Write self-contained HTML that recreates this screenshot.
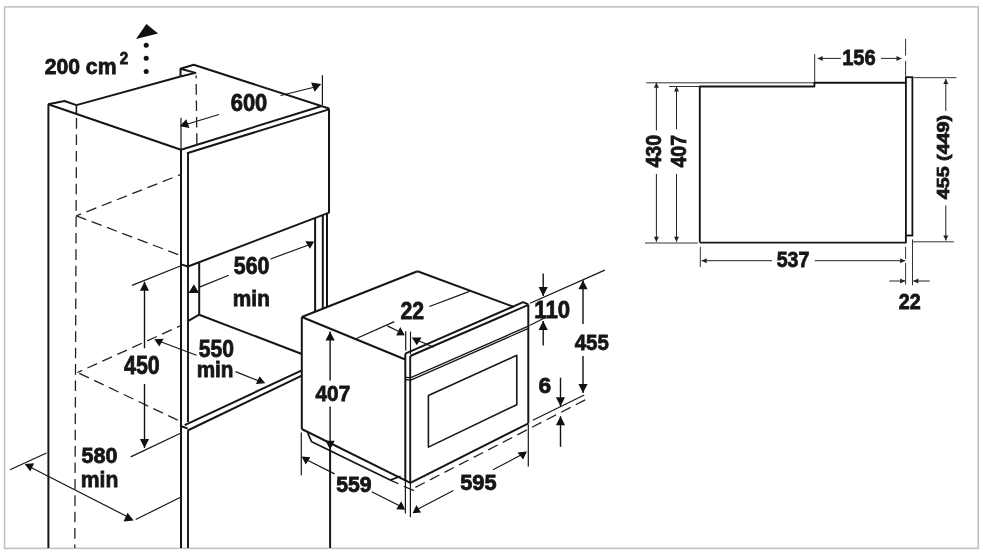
<!DOCTYPE html>
<html><head><meta charset="utf-8"><style>
html,body{margin:0;padding:0;background:#fff;width:983px;height:557px;overflow:hidden}
svg{display:block;will-change:transform}
text{font-family:"Liberation Sans",sans-serif;font-weight:bold;fill:#161616;stroke:#161616;stroke-width:0.8px}
</style></head><body>
<svg width="983" height="557" viewBox="0 0 983 557">
<rect x="4.6" y="6.9" width="973.6" height="541.5" fill="none" stroke="#c2c2c2" stroke-width="1.6"/>
<line x1="48.4" y1="104.3" x2="48.4" y2="548" stroke="#161616" stroke-width="2.0"/>
<polyline points="48.2,104.3 64.5,101 76.4,105.1" fill="none" stroke="#161616" stroke-width="2.0" stroke-linejoin="round"/>
<line x1="76.4" y1="105.1" x2="76.4" y2="114" stroke="#161616" stroke-width="1.6"/>
<line x1="48.2" y1="104.3" x2="181" y2="149.8" stroke="#161616" stroke-width="2.0"/>
<line x1="76.4" y1="105.1" x2="180.5" y2="76.5" stroke="#161616" stroke-width="2.0"/>
<polyline points="180.5,76.5 180.5,68.7 193.7,64.8 329,108.5" fill="none" stroke="#161616" stroke-width="2.0" stroke-linejoin="round"/>
<polyline points="180.5,68.7 195.5,72.9 180.5,76.5" fill="none" stroke="#161616" stroke-width="2.0" stroke-linejoin="round"/>
<line x1="181" y1="149.8" x2="321" y2="106.2" stroke="#161616" stroke-width="2.0"/>
<line x1="187" y1="153.2" x2="329" y2="109.4" stroke="#161616" stroke-width="2.0"/>
<line x1="181" y1="149.8" x2="181" y2="548" stroke="#161616" stroke-width="2.0"/>
<line x1="188" y1="153.2" x2="188" y2="421.9" stroke="#161616" stroke-width="1.9"/>
<line x1="188" y1="430.5" x2="188" y2="548" stroke="#161616" stroke-width="1.9"/>
<line x1="329" y1="108.5" x2="329" y2="213" stroke="#161616" stroke-width="2.0"/>
<polyline points="181,264.4 188,266.5 329.1,212.6" fill="none" stroke="#161616" stroke-width="2.0" stroke-linejoin="round"/>
<line x1="315.1" y1="217.9478" x2="315.1" y2="311.74649999999997" stroke="#161616" stroke-width="2.0"/>
<line x1="322.8" y1="215.00639999999999" x2="322.8" y2="308.705" stroke="#161616" stroke-width="2.0"/>
<line x1="327" y1="213.402" x2="327" y2="307.046" stroke="#161616" stroke-width="2.0"/>
<line x1="199.2" y1="262.5" x2="199.2" y2="314.7" stroke="#161616" stroke-width="2.0"/>
<line x1="188" y1="321.1" x2="199.2" y2="314.7" stroke="#161616" stroke-width="2.0"/>
<line x1="199.2" y1="314.7" x2="301.8" y2="354" stroke="#161616" stroke-width="2.0"/>
<line x1="184.7" y1="425.1" x2="301.8" y2="370.4" stroke="#161616" stroke-width="2.0"/>
<line x1="181.1" y1="426.2" x2="187.6" y2="428.4" stroke="#161616" stroke-width="2.0"/>
<line x1="187.6" y1="430.5" x2="301.8" y2="375.6" stroke="#161616" stroke-width="2.0"/>
<line x1="76.5" y1="118.1" x2="74.8" y2="548" stroke="#222" stroke-width="1.3" stroke-dasharray="10.6 5.8" stroke-dashoffset="0"/>
<line x1="196.1" y1="75.4" x2="196.9" y2="146" stroke="#222" stroke-width="1.3" stroke-dasharray="10.6 5.8" stroke-dashoffset="7.7"/>
<line x1="76.3" y1="215.8" x2="181" y2="174.4" stroke="#222" stroke-width="1.3" stroke-dasharray="10.6 5.8" stroke-dashoffset="5.5"/>
<line x1="76.3" y1="215.8" x2="180" y2="255.3" stroke="#222" stroke-width="1.3" stroke-dasharray="10.6 5.8" stroke-dashoffset="0"/>
<line x1="77.5" y1="372.5" x2="181" y2="325.5" stroke="#222" stroke-width="1.3" stroke-dasharray="10.6 5.8" stroke-dashoffset="5.5"/>
<line x1="77.5" y1="372.5" x2="181" y2="421.7" stroke="#222" stroke-width="1.3" stroke-dasharray="10.6 5.8" stroke-dashoffset="-2"/>
<polygon points="136,39 146.4,24 158.1,33.5" fill="#111"/>
<circle cx="146.2" cy="45.3" r="2.5" fill="#111"/>
<circle cx="146.2" cy="58.3" r="2.5" fill="#111"/>
<circle cx="146.2" cy="71.4" r="2.5" fill="#111"/>
<line x1="322.4" y1="75.3" x2="322.4" y2="105" stroke="#161616" stroke-width="1.2"/>
<line x1="280.5" y1="95.5" x2="313" y2="87.5" stroke="#161616" stroke-width="1.2"/>
<polygon points="321.2,84.1 311.1,82.6 314.6,91.7" fill="#111"/>
<line x1="181" y1="117.7" x2="181" y2="149" stroke="#161616" stroke-width="1.2"/>
<line x1="219" y1="114.5" x2="186" y2="124.5" stroke="#161616" stroke-width="1.2"/>
<polygon points="179.8,126.3 186.2,119.3 189.5,127.9" fill="#111"/>
<line x1="270.5" y1="259" x2="308.5" y2="245" stroke="#161616" stroke-width="1.2"/>
<polygon points="305.3,241.3 314.2,241.6 309.9,248.8" fill="#111"/>
<line x1="228.8" y1="275.2" x2="199.5" y2="287.1" stroke="#161616" stroke-width="1.2"/>
<polygon points="189,292.2 193.9,284.2 198.6,292.2" fill="#111"/>
<line x1="188" y1="292.4" x2="199.2" y2="292.4" stroke="#161616" stroke-width="1.2"/>
<line x1="132" y1="285.4" x2="181" y2="265.8" stroke="#161616" stroke-width="1.2"/>
<line x1="144.5" y1="348.3" x2="144.5" y2="281.7" stroke="#111" stroke-width="1.4"/>
<polygon points="144.50,281.70 149.10,290.70 139.90,290.70" fill="#111"/>
<line x1="144.5" y1="384" x2="144.5" y2="448" stroke="#111" stroke-width="1.4"/>
<polygon points="144.50,448.00 139.90,439.00 149.10,439.00" fill="#111"/>
<line x1="130.7" y1="456.9" x2="181" y2="433" stroke="#161616" stroke-width="1.2"/>
<line x1="196.5" y1="355.3" x2="160" y2="341.5" stroke="#161616" stroke-width="1.2"/>
<polygon points="154.2,339.3 163.6,338.8 159.3,346.6" fill="#111"/>
<line x1="235.5" y1="371.6" x2="259" y2="381" stroke="#161616" stroke-width="1.2"/>
<polygon points="259.6,376.3 255.9,384.1 265.3,383.3" fill="#111"/>
<line x1="10" y1="469.8" x2="46.5" y2="453" stroke="#161616" stroke-width="1.2"/>
<line x1="135.7" y1="519.5" x2="181" y2="497" stroke="#161616" stroke-width="1.2"/>
<line x1="31" y1="467.5" x2="128" y2="517" stroke="#161616" stroke-width="1.2"/>
<polygon points="24.7,464 34.1,463.2 30.3,471.5" fill="#111"/>
<polygon points="127.5,512.7 123.5,521.5 133.7,520.5" fill="#111"/>
<line x1="301.8" y1="317" x2="301.8" y2="429" stroke="#161616" stroke-width="2.0"/>
<line x1="301.8" y1="317" x2="417.5" y2="271.3" stroke="#161616" stroke-width="2.0"/>
<line x1="301.8" y1="317" x2="405.3" y2="359.5" stroke="#161616" stroke-width="2.0"/>
<line x1="417.5" y1="271.3" x2="514" y2="307" stroke="#161616" stroke-width="2.0"/>
<line x1="301.7" y1="429" x2="410.4" y2="482.8" stroke="#161616" stroke-width="2.0"/>
<polyline points="307.7,433.2 311.7,441.8 390.2,480.1 400.5,476.3" fill="none" stroke="#161616" stroke-width="1.7" stroke-linejoin="round"/>
<line x1="390.2" y1="480.1" x2="398.3" y2="483.6" stroke="#161616" stroke-width="1.2"/>
<line x1="403.7" y1="486.3" x2="413.9" y2="490.6" stroke="#161616" stroke-width="1.2"/>
<line x1="405.3" y1="353.7" x2="405.3" y2="481" stroke="#161616" stroke-width="2.0"/>
<line x1="410.2" y1="356" x2="410.2" y2="482" stroke="#161616" stroke-width="1.9"/>
<polyline points="405.3,353.7 523.1,302.2 528.3,304.4" fill="none" stroke="#161616" stroke-width="2.0" stroke-linejoin="round"/>
<line x1="410.2" y1="356" x2="527.8" y2="305.2" stroke="#161616" stroke-width="2.0"/>
<line x1="528.3" y1="304.4" x2="528.3" y2="423.3" stroke="#161616" stroke-width="2.0"/>
<line x1="410.4" y1="482.8" x2="528.5" y2="423.3" stroke="#161616" stroke-width="2.0"/>
<polyline points="405.3,377.3 410.8,377.7 527.7,326.4" fill="none" stroke="#161616" stroke-width="1.3" stroke-linejoin="round"/>
<polyline points="405.3,379.5 410.8,380.2 527.7,328.7" fill="none" stroke="#161616" stroke-width="1.3" stroke-linejoin="round"/>
<polygon points="428.4,395.5 516.8,355.3 516.8,404.7 428.4,447.1" fill="none" stroke="#161616" stroke-width="1.6" stroke-linejoin="round"/>
<line x1="405.7" y1="331.2" x2="405.7" y2="350.5" stroke="#161616" stroke-width="1.2"/>
<line x1="410.5" y1="331.6" x2="410.5" y2="354.2" stroke="#161616" stroke-width="1.2"/>
<line x1="355.3" y1="339" x2="394.3" y2="321.6" stroke="#161616" stroke-width="1.2"/>
<line x1="429.4" y1="306.5" x2="469.6" y2="291.4" stroke="#161616" stroke-width="1.2"/>
<line x1="387.3" y1="325.9" x2="400" y2="332" stroke="#161616" stroke-width="1.2"/>
<polygon points="404.8,335.2 400.2,327.1 396.2,335.6" fill="#111"/>
<line x1="433.7" y1="347.3" x2="417" y2="340" stroke="#161616" stroke-width="1.2"/>
<polygon points="411.8,337.6 421.6,337.6 416.8,345.3" fill="#111"/>
<line x1="330.1" y1="380.6" x2="330.1" y2="331.6" stroke="#111" stroke-width="1.4"/>
<polygon points="330.10,331.60 334.70,340.60 325.50,340.60" fill="#111"/>
<line x1="330.1" y1="406.4" x2="330.1" y2="449.7" stroke="#111" stroke-width="1.4"/>
<polygon points="330.10,449.70 325.50,440.70 334.70,440.70" fill="#111"/>
<line x1="330.1" y1="449" x2="330.1" y2="548" stroke="#161616" stroke-width="2.0"/>
<line x1="301.3" y1="432.4" x2="301.3" y2="475.2" stroke="#161616" stroke-width="1.2"/>
<line x1="405.4" y1="481" x2="405.4" y2="513.6" stroke="#161616" stroke-width="1.2"/>
<line x1="334.6" y1="473.9" x2="308" y2="460.5" stroke="#161616" stroke-width="1.2"/>
<polygon points="301.6,456.6 310.4,457.2 305.7,464.5" fill="#111"/>
<line x1="371.7" y1="491.8" x2="400" y2="506" stroke="#161616" stroke-width="1.2"/>
<polygon points="401.3,501.3 396.3,509.2 405.1,509.8" fill="#111"/>
<line x1="410.4" y1="482" x2="410.4" y2="517.3" stroke="#161616" stroke-width="1.2"/>
<line x1="528.3" y1="424.5" x2="528.3" y2="466.4" stroke="#161616" stroke-width="1.2"/>
<line x1="453.4" y1="490.5" x2="418" y2="509" stroke="#161616" stroke-width="1.2"/>
<polygon points="416.4,505.1 412.6,513.2 421.1,512.6" fill="#111"/>
<line x1="493" y1="469.8" x2="521" y2="455" stroke="#161616" stroke-width="1.2"/>
<polygon points="517.5,452.4 526.9,451.6 523.1,459.4" fill="#111"/>
<line x1="410.2" y1="490" x2="586.2" y2="399.4" stroke="#222" stroke-width="1.3" stroke-dasharray="10.6 5.8" stroke-dashoffset="10.6"/>
<line x1="532.8" y1="420.2" x2="584.2" y2="395" stroke="#161616" stroke-width="1.2"/>
<line x1="530.1" y1="303.3" x2="604.8" y2="270.1" stroke="#161616" stroke-width="1.2"/>
<line x1="529.5" y1="325.5" x2="545.5" y2="317.5" stroke="#161616" stroke-width="1.2"/>
<line x1="543.2" y1="273.5" x2="543.2" y2="295.9" stroke="#111" stroke-width="1.4"/>
<polygon points="543.20,295.90 538.60,286.90 547.80,286.90" fill="#111"/>
<line x1="543.2" y1="345.5" x2="543.2" y2="321" stroke="#111" stroke-width="1.4"/>
<polygon points="543.20,321.00 547.80,330.00 538.60,330.00" fill="#111"/>
<line x1="583" y1="324" x2="583" y2="280.2" stroke="#111" stroke-width="1.4"/>
<polygon points="583.00,280.20 587.60,289.20 578.40,289.20" fill="#111"/>
<line x1="583" y1="355.9" x2="583" y2="393.1" stroke="#111" stroke-width="1.4"/>
<polygon points="583.00,393.10 578.40,384.10 587.60,384.10" fill="#111"/>
<line x1="560.5" y1="377.7" x2="560.5" y2="406.3" stroke="#111" stroke-width="1.4"/>
<polygon points="560.50,406.30 555.90,397.30 565.10,397.30" fill="#111"/>
<line x1="560.5" y1="446.8" x2="560.5" y2="416.2" stroke="#111" stroke-width="1.4"/>
<polygon points="560.50,416.20 565.10,425.20 555.90,425.20" fill="#111"/>
<line x1="646.3" y1="82.8" x2="814.7" y2="82.8" stroke="#333" stroke-width="1.0"/>
<line x1="669" y1="86.5" x2="699" y2="86.5" stroke="#333" stroke-width="1.0"/>
<polyline points="699.8,242.6 699.8,86.5 814.4,86.5 814.4,82.8 905.6,82.8" fill="none" stroke="#161616" stroke-width="1.9" stroke-linejoin="round"/>
<rect x="905.9" y="77.2" width="6.5" height="158.3" fill="none" stroke="#111" stroke-width="1.8"/>
<polyline points="699.8,242.6 905.9,242.6 905.9,235.5" fill="none" stroke="#161616" stroke-width="1.9" stroke-linejoin="round"/>
<line x1="645" y1="243" x2="697.8" y2="243" stroke="#333" stroke-width="1.0"/>
<line x1="700.3" y1="246.8" x2="700.3" y2="267" stroke="#333" stroke-width="1.0"/>
<line x1="814.7" y1="53.9" x2="814.7" y2="82" stroke="#333" stroke-width="1.0"/>
<line x1="905.6" y1="38.8" x2="905.6" y2="55.5" stroke="#333" stroke-width="1.0"/>
<line x1="905.6" y1="61" x2="905.6" y2="76" stroke="#333" stroke-width="1.0"/>
<line x1="913.6" y1="77.7" x2="956.4" y2="77.7" stroke="#333" stroke-width="1.0"/>
<line x1="912.4" y1="241.8" x2="953.8" y2="241.8" stroke="#333" stroke-width="1.0"/>
<line x1="905.6" y1="247" x2="905.6" y2="259" stroke="#333" stroke-width="1.0"/>
<line x1="905.6" y1="263" x2="905.6" y2="284.7" stroke="#333" stroke-width="1.0"/>
<line x1="912.5" y1="239.4" x2="912.5" y2="285.3" stroke="#333" stroke-width="1.0"/>
<line x1="840.8" y1="58.4" x2="817.7" y2="58.4" stroke="#222" stroke-width="1.0"/>
<polygon points="817.70,58.40 822.70,55.90 822.70,60.90" fill="#222"/>
<line x1="881" y1="58.4" x2="901.5" y2="58.4" stroke="#222" stroke-width="1.0"/>
<polygon points="901.50,58.40 896.50,60.90 896.50,55.90" fill="#222"/>
<line x1="656.4" y1="130.5" x2="656.4" y2="82.8" stroke="#222" stroke-width="1.0"/>
<polygon points="656.40,82.80 658.90,87.80 653.90,87.80" fill="#222"/>
<line x1="656.4" y1="174" x2="656.4" y2="241.8" stroke="#222" stroke-width="1.0"/>
<polygon points="656.40,241.80 653.90,236.80 658.90,236.80" fill="#222"/>
<line x1="676.5" y1="129.2" x2="676.5" y2="86.5" stroke="#222" stroke-width="1.0"/>
<polygon points="676.50,86.50 679.00,91.50 674.00,91.50" fill="#222"/>
<line x1="676.5" y1="174" x2="676.5" y2="241.8" stroke="#222" stroke-width="1.0"/>
<polygon points="676.50,241.80 674.00,236.80 679.00,236.80" fill="#222"/>
<line x1="945.8" y1="110.9" x2="945.8" y2="79" stroke="#222" stroke-width="1.0"/>
<polygon points="945.80,79.00 948.30,84.00 943.30,84.00" fill="#222"/>
<line x1="945.8" y1="205.4" x2="945.8" y2="240.5" stroke="#222" stroke-width="1.0"/>
<polygon points="945.80,240.50 943.30,235.50 948.30,235.50" fill="#222"/>
<line x1="772" y1="260.7" x2="701.6" y2="260.7" stroke="#222" stroke-width="1.0"/>
<polygon points="701.60,260.70 706.60,258.20 706.60,263.20" fill="#222"/>
<line x1="814.7" y1="260.7" x2="905.2" y2="260.7" stroke="#222" stroke-width="1.0"/>
<polygon points="905.20,260.70 900.20,263.20 900.20,258.20" fill="#222"/>
<line x1="889.4" y1="281" x2="905.2" y2="281" stroke="#222" stroke-width="1.0"/>
<polygon points="905.20,281.00 900.20,283.50 900.20,278.50" fill="#222"/>
<line x1="929.7" y1="281" x2="913.3" y2="281" stroke="#222" stroke-width="1.0"/>
<polygon points="913.30,281.00 918.30,278.50 918.30,283.50" fill="#222"/>
<text x="44.66" y="74.28" style="font-size:22.96px" textLength="71.82" lengthAdjust="spacingAndGlyphs">200 cm</text>
<text x="119.80" y="64.20" style="font-size:16.26px" textLength="8.42" lengthAdjust="spacingAndGlyphs">2</text>
<text x="230.72" y="110.70" style="font-size:23.00px" textLength="36.56" lengthAdjust="spacingAndGlyphs">600</text>
<text x="233.80" y="274.42" style="font-size:23.34px" textLength="35.62" lengthAdjust="spacingAndGlyphs">560</text>
<text x="232.86" y="305.78" style="font-size:22.69px" textLength="37.01" lengthAdjust="spacingAndGlyphs">min</text>
<text x="198.80" y="356.92" style="font-size:23.61px" textLength="35.29" lengthAdjust="spacingAndGlyphs">550</text>
<text x="196.64" y="377.42" style="font-size:22.54px" textLength="36.83" lengthAdjust="spacingAndGlyphs">min</text>
<text x="124.02" y="374.06" style="font-size:25.25px" textLength="35.78" lengthAdjust="spacingAndGlyphs">450</text>
<text x="81.58" y="462.92" style="font-size:22.94px" textLength="35.96" lengthAdjust="spacingAndGlyphs">580</text>
<text x="80.78" y="486.56" style="font-size:22.96px" textLength="37.54" lengthAdjust="spacingAndGlyphs">min</text>
<text x="400.44" y="318.92" style="font-size:23.66px" textLength="23.63" lengthAdjust="spacingAndGlyphs">22</text>
<text x="315.52" y="401.34" style="font-size:22.96px" textLength="34.69" lengthAdjust="spacingAndGlyphs">407</text>
<text x="336.16" y="491.56" style="font-size:21.36px" textLength="35.42" lengthAdjust="spacingAndGlyphs">559</text>
<text x="460.22" y="489.92" style="font-size:22.70px" textLength="36.43" lengthAdjust="spacingAndGlyphs">595</text>
<text x="534.36" y="317.92" style="font-size:23.34px" textLength="35.82" lengthAdjust="spacingAndGlyphs">110</text>
<text x="574.74" y="349.78" style="font-size:22.96px" textLength="34.15" lengthAdjust="spacingAndGlyphs">455</text>
<text x="538.44" y="393.20" style="font-size:21.86px" textLength="12.66" lengthAdjust="spacingAndGlyphs">6</text>
<text x="842.14" y="64.56" style="font-size:22.53px" textLength="33.56" lengthAdjust="spacingAndGlyphs">156</text>
<text x="776.66" y="267.34" style="font-size:22.53px" textLength="32.70" lengthAdjust="spacingAndGlyphs">537</text>
<text x="898.72" y="309.28" style="font-size:22.73px" textLength="21.95" lengthAdjust="spacingAndGlyphs">22</text>
<text x="660.86" y="167.62" style="font-size:21.86px" textLength="32.63" lengthAdjust="spacingAndGlyphs" transform="rotate(-90 660.86 167.62)">430</text>
<text x="686.22" y="167.62" style="font-size:22.53px" textLength="32.63" lengthAdjust="spacingAndGlyphs" transform="rotate(-90 686.22 167.62)">407</text>
<text x="949.44" y="199.20" style="font-size:16.77px" textLength="84.23" lengthAdjust="spacingAndGlyphs" transform="rotate(-90 949.44 199.20)">455 (449)</text>
</svg>
</body></html>
